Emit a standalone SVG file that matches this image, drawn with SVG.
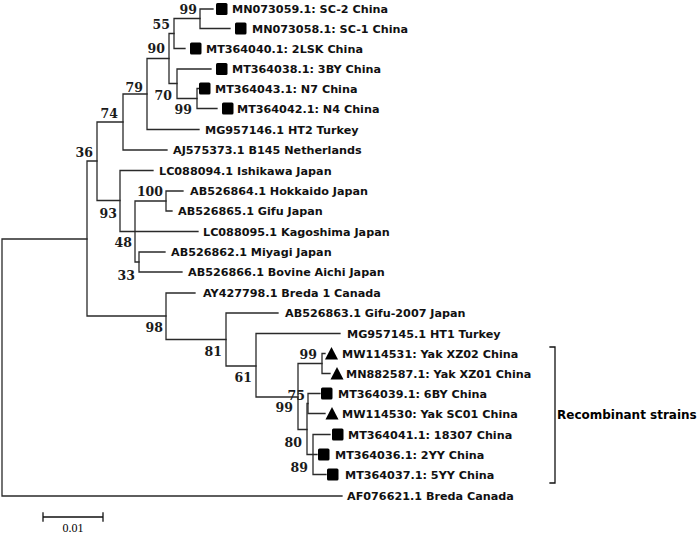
<svg xmlns="http://www.w3.org/2000/svg" width="700" height="534" viewBox="0 0 700 534">
<style>
.br{fill:none;stroke:#2a2a2a;stroke-width:1.3;stroke-linecap:square}
.lf{font-family:"DejaVu Sans",Verdana,sans-serif;font-weight:bold;font-size:11.2px;fill:#111}
.bs{font-family:"DejaVu Serif","Liberation Serif",serif;font-weight:bold;font-size:12.5px;fill:#1a1a1a;text-anchor:end}
.sq{fill:#000}
.tri{fill:#000}
.rec{font-family:"DejaVu Sans",Verdana,sans-serif;font-weight:bold;font-size:12px;fill:#000}
.sc{font-family:"Liberation Serif","Times New Roman",serif;font-size:12px;fill:#000;text-anchor:middle}
</style>
<rect width="700" height="534" fill="#fff"/>
<g id="connectors">
<path class="br" d="M2,239 V496 M2,239 H87 M2,496 H342"/>
<path class="br" d="M87,161 V316 M87,161 H97 M87,316 H166"/>
<path class="br" d="M97,122 V200.5 M97,122 H123 M97,200.5 H120"/>
<path class="br" d="M123,94 V150 M123,94 H147 M123,150 H167"/>
<path class="br" d="M147,58.5 V129.5 M147,58.5 H169 M147,129.5 H199"/>
<path class="br" d="M169,33.5 V83.5 M169,33.5 H174 M169,83.5 H177"/>
<path class="br" d="M174,18.5 V48.5 M174,18.5 H200 M174,48.5 H185"/>
<path class="br" d="M200,9 V28.5 M200,9 H213 M200,28.5 H230"/>
<path class="br" d="M177,69 V98.5 M177,69 H211 M177,98.5 H197"/>
<path class="br" d="M197,88.5 V108.5 M197,88.5 H199 M197,108.5 H217"/>
<path class="br" d="M120,170.5 V231.5 M120,170.5 H153 M120,231.5 H198"/>
<path class="br" d="M135,201 V262 M135,201 H166 M135,262 H139"/>
<path class="br" d="M166,191 V211 M166,191 H183 M166,211 H172"/>
<path class="br" d="M139,252 V272 M139,252 H165 M139,272 H182"/>
<path class="br" d="M166,293 V339.5 M166,293 H195 M166,339.5 H226"/>
<path class="br" d="M226,313 V366 M226,313 H278 M226,366 H256"/>
<path class="br" d="M256,333.5 V397 M256,333.5 H340 M256,397 H298"/>
<path class="br" d="M298,363.5 V429.5 M298,363.5 H322 M298,429.5 H307"/>
<path class="br" d="M322,353.5 V373.5 M322,353.5 H325 M322,373.5 H330"/>
<path class="br" d="M307,403.5 V454.5 M307,403.5 H308 M307,454.5 H317"/>
<path class="br" d="M308,393.5 V413.5 M308,393.5 H320 M308,413.5 H325"/>
<path class="br" d="M313,434.5 V474.5 M313,434.5 H330 M313,474.5 H326"/>
</g>
<g id="leaf-MN073059"><rect class="sq" x="216" y="3" width="11.5" height="12" rx="1.5"/><text class="lf" x="232" y="13">MN073059.1: SC-2 China</text></g>
<g id="leaf-MN073058"><rect class="sq" x="235" y="22.5" width="11.5" height="12" rx="1.5"/><text class="lf" x="252" y="32.5">MN073058.1: SC-1 China</text></g>
<g id="leaf-MT364040"><rect class="sq" x="190" y="42.5" width="11.5" height="12" rx="1.5"/><text class="lf" x="206" y="52.5">MT364040.1: 2LSK China</text></g>
<g id="leaf-MT364038"><rect class="sq" x="216" y="63" width="11.5" height="12" rx="1.5"/><text class="lf" x="232" y="73">MT364038.1: 3BY China</text></g>
<g id="leaf-MT364043"><rect class="sq" x="199" y="82.5" width="11.5" height="12" rx="1.5"/><text class="lf" x="215" y="92.5">MT364043.1: N7 China</text></g>
<g id="leaf-MT364042"><rect class="sq" x="222" y="102.5" width="11.5" height="12" rx="1.5"/><text class="lf" x="237" y="112.5">MT364042.1: N4 China</text></g>
<g id="leaf-MG957146"><text class="lf" x="205" y="133.5">MG957146.1 HT2 Turkey</text></g>
<g id="leaf-AJ575373"><text class="lf" x="173" y="154">AJ575373.1 B145 Netherlands</text></g>
<g id="leaf-LC088094"><text class="lf" x="159" y="174.5">LC088094.1 Ishikawa Japan</text></g>
<g id="leaf-AB526864"><text class="lf" x="190" y="195">AB526864.1 Hokkaido Japan</text></g>
<g id="leaf-AB526865"><text class="lf" x="178" y="215">AB526865.1 Gifu Japan</text></g>
<g id="leaf-LC088095"><text class="lf" x="203" y="235.5">LC088095.1 Kagoshima Japan</text></g>
<g id="leaf-AB526862"><text class="lf" x="171" y="256">AB526862.1 Miyagi Japan</text></g>
<g id="leaf-AB526866"><text class="lf" x="188" y="276">AB526866.1 Bovine Aichi Japan</text></g>
<g id="leaf-AY427798"><text class="lf" x="203" y="297">AY427798.1 Breda 1 Canada</text></g>
<g id="leaf-AB526863"><text class="lf" x="285" y="317">AB526863.1 Gifu-2007 Japan</text></g>
<g id="leaf-MG957145"><text class="lf" x="347" y="337.5">MG957145.1 HT1 Turkey</text></g>
<g id="leaf-MW114531"><path class="tri" d="M331.5,347 L338,359.5 L325,359.5 Z"/><text class="lf" x="342" y="357.5">MW114531: Yak XZ02 China</text></g>
<g id="leaf-MN882587"><path class="tri" d="M337,367 L343.5,379.5 L330.5,379.5 Z"/><text class="lf" x="346" y="377.5">MN882587.1: Yak XZ01 China</text></g>
<g id="leaf-MT364039"><rect class="sq" x="321" y="387.5" width="11.5" height="12" rx="1.5"/><text class="lf" x="338" y="397.5">MT364039.1: 6BY China</text></g>
<g id="leaf-MW114530"><path class="tri" d="M332,407 L338.5,419.5 L325.5,419.5 Z"/><text class="lf" x="342" y="417.5">MW114530: Yak SC01 China</text></g>
<g id="leaf-MT364041"><rect class="sq" x="332" y="428.5" width="11.5" height="12" rx="1.5"/><text class="lf" x="348" y="438.5">MT364041.1: 18307 China</text></g>
<g id="leaf-MT364036"><rect class="sq" x="318" y="448.5" width="11.5" height="12" rx="1.5"/><text class="lf" x="335" y="458.5">MT364036.1: 2YY China</text></g>
<g id="leaf-MT364037"><rect class="sq" x="327" y="468.5" width="11.5" height="12" rx="1.5"/><text class="lf" x="345" y="478.5">MT364037.1: 5YY China</text></g>
<g id="leaf-AF076621"><text class="lf" x="347" y="500">AF076621.1 Breda Canada</text></g>
<g id="bootstrap">
<text class="bs" x="197" y="13.5">99</text>
<text class="bs" x="170" y="28.5">55</text>
<text class="bs" x="165" y="53">90</text>
<text class="bs" x="143" y="92">79</text>
<text class="bs" x="172" y="100">70</text>
<text class="bs" x="192" y="114">99</text>
<text class="bs" x="118" y="117.5">74</text>
<text class="bs" x="93" y="157">36</text>
<text class="bs" x="163" y="196">100</text>
<text class="bs" x="117" y="218">93</text>
<text class="bs" x="132" y="247">48</text>
<text class="bs" x="135" y="280">33</text>
<text class="bs" x="163" y="332">98</text>
<text class="bs" x="222" y="356">81</text>
<text class="bs" x="252" y="382">61</text>
<text class="bs" x="317" y="359">99</text>
<text class="bs" x="305" y="400">75</text>
<text class="bs" x="293" y="412">99</text>
<text class="bs" x="302" y="447">80</text>
<text class="bs" x="308" y="472">89</text>
</g>
<g id="recombinant">
<path class="br" d="M550,347 H555 V483 H550" style="stroke:#111"/>
<text class="rec" x="557" y="419">Recombinant strains</text>
</g>
<g id="scale">
<path class="br" d="M43,517 H103 M43,513 V521 M103,513 V521" style="stroke:#111"/>
<text class="sc" x="73" y="532">0.01</text>
</g>
</svg>
